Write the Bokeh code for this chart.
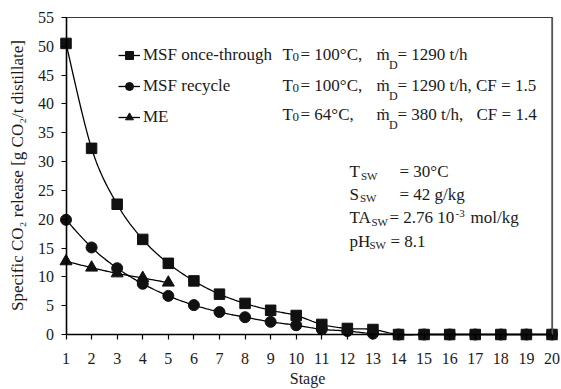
import math
from bokeh.plotting import figure
from bokeh.models import (Range1d, FixedTicker, Legend, LegendItem, Label,
                          ColumnDataSource, LinearAxis)
from bokeh.embed import file_html
from bokeh.resources import INLINE

# ---------------- data ----------------
stages = list(range(1, 21))
msf_once_through = [50.5, 32.3, 22.6, 16.5, 12.35, 9.3, 7.0, 5.4, 4.2, 3.3,
                    1.75, 1.05, 0.87, 0.0, 0.0, 0.0, 0.0, 0.0, 0.0, 0.0]
msf_recycle = [19.9, 15.1, 11.5, 8.8, 6.7, 5.1, 3.9, 3.0, 2.2, 1.6,
               0.9, 0.6, 0.15, 0.0, 0.0, 0.0, 0.0, 0.0, 0.0, 0.0]
me_stages = [1, 2, 3, 4, 5]
me_values = [12.7, 11.6, 10.6, 9.8, 9.0]
y_ticks = [0, 5, 10, 15, 20, 25, 30, 35, 40, 45, 50, 55]
series_labels = ["MSF once-through", "MSF recycle", "ME"]

FONT = "Liberation Serif"
INK = "#1a1a1a"

# ---------------- geometry (frame = whole canvas) ----------------
W, H = 561, 389
XPX = (551.5 - 65.5) / 19.0          # px per stage
YPX = (334.0 - 17.0) / 55.0          # px per unit
X0 = 1 - 65.5 / XPX
X1 = 20 + (W - 551.5) / XPX
Y1 = 55 + 17.0 / YPX
Y0 = -(H - 334.0) / YPX


def px2x(cx):
    return X0 + cx / W * (X1 - X0)


def py2y(cy):
    return Y0 + (H - cy) / H * (Y1 - Y0)


def smooth(xs, ys, n=16):
    """Excel-like smoothed line (Catmull-Rom / Bezier) through the points."""
    pts = list(zip(xs, ys))
    out_x, out_y = [], []
    for i in range(len(pts) - 1):
        p0 = pts[i - 1] if i > 0 else pts[i]
        p1 = pts[i]
        p2 = pts[i + 1]
        p3 = pts[i + 2] if i + 2 < len(pts) else pts[i + 1]
        b1 = (p1[0] + (p2[0] - p0[0]) / 6, p1[1] + (p2[1] - p0[1]) / 6)
        b2 = (p2[0] - (p3[0] - p1[0]) / 6, p2[1] - (p3[1] - p1[1]) / 6)
        for k in range(n + (1 if i == len(pts) - 2 else 0)):
            t = k / n
            u = 1 - t
            out_x.append(u**3 * p1[0] + 3 * u * u * t * b1[0] + 3 * u * t * t * b2[0] + t**3 * p2[0])
            out_y.append(u**3 * p1[1] + 3 * u * u * t * b1[1] + 3 * u * t * t * b2[1] + t**3 * p2[1])
    return out_x, out_y


p = figure(width=W, height=H, output_backend="svg", toolbar_location=None,
           x_range=Range1d(X0, X1), y_range=Range1d(Y0, Y1),
           min_border_left=0, min_border_right=0, min_border_top=0,
           min_border_bottom=0)
p.outline_line_color = None
p.grid.visible = False
p.background_fill_color = "white"
p.border_fill_color = "white"

# axes, fixed at stage 1 and at 0
p.xaxis.fixed_location = 0
p.yaxis.fixed_location = 1
p.xaxis.bounds = (1, 20)
p.yaxis.bounds = (0, 55)
p.xaxis.ticker = FixedTicker(ticks=stages)
p.yaxis.ticker = FixedTicker(ticks=y_ticks)
for ax in (p.xaxis, p.yaxis):
    ax.axis_line_color = "black"
    ax.axis_line_width = 1.6
    ax.major_tick_line_color = "black"
    ax.major_tick_line_width = 1.2
    ax.major_tick_in = 0
    ax.major_tick_out = 5
    ax.minor_tick_line_color = None
    ax.major_label_text_font = FONT
    ax.major_label_text_font_size = "16px"
    ax.major_label_text_color = INK
p.xaxis.major_label_standoff = 13
p.yaxis.major_label_standoff = 7

# plot-area border (top & right edges): bare axes with invisible end ticks
top_axis = LinearAxis(fixed_location=y_ticks[-1], bounds=(stages[0], stages[-1]),
                      ticker=FixedTicker(ticks=[stages[0], stages[-1]]),
                      axis_line_color="#3a3a3a", axis_line_width=1.2,
                      major_tick_in=0, major_tick_out=0,
                      major_tick_line_alpha=0, minor_tick_line_color=None,
                      major_label_overrides={stages[0]: " ", stages[-1]: " "},
                      major_label_text_alpha=0, major_label_text_font_size="1px")
right_axis = LinearAxis(fixed_location=stages[-1], bounds=(y_ticks[0], y_ticks[-1]),
                        ticker=FixedTicker(ticks=[y_ticks[0], y_ticks[-1]]),
                        axis_line_color="#555555", axis_line_width=1.2,
                        major_tick_in=0, major_tick_out=0,
                        major_tick_line_alpha=0, minor_tick_line_color=None,
                        major_label_overrides={y_ticks[0]: " ", y_ticks[-1]: " "},
                        major_label_text_alpha=0, major_label_text_font_size="1px")
p.add_layout(top_axis, "above")
p.add_layout(right_axis, "right")

# series
src_ot = ColumnDataSource(dict(x=stages, y=msf_once_through))
src_rc = ColumnDataSource(dict(x=stages, y=msf_recycle))
src_me = ColumnDataSource(dict(x=me_stages, y=me_values))

sx, sy = smooth(stages, msf_once_through)
l1 = p.line(sx, sy, line_color="black", line_width=1.3)
sx, sy = smooth(stages, msf_recycle)
l2 = p.line(sx, sy, line_color="black", line_width=1.3)
sx, sy = smooth(me_stages, me_values)
l3 = p.line(sx, sy, line_color="black", line_width=1.3)

m1 = p.scatter("x", "y", source=src_ot, marker="square", size=10.5,
               fill_color="#111111", line_color="#111111")
m2 = p.scatter("x", "y", source=src_rc, marker="circle", size=11,
               fill_color="#111111", line_color="#111111")
m3 = p.scatter("x", "y", source=src_me, marker="triangle", size=12,
               fill_color="#111111", line_color="#111111")

# same border also as line segments (after the series)
p.segment(x0=[stages[0], stages[-1]], y0=[y_ticks[-1], y_ticks[-1]],
          x1=[stages[-1], stages[-1]], y1=[y_ticks[-1], y_ticks[0]],
          line_color="#3a3a3a", line_width=1.2)

legend = Legend(items=[
    LegendItem(label=series_labels[0], renderers=[l1, m1]),
    LegendItem(label=series_labels[1], renderers=[l2, m2]),
    LegendItem(label=series_labels[2], renderers=[l3, m3]),
], location=(118, 262), orientation="vertical")
legend.background_fill_alpha = 0
legend.border_line_alpha = 0
legend.padding = 0
legend.margin = 0
legend.spacing = 11
legend.glyph_width = 22
legend.glyph_height = 20
legend.label_height = 20
legend.label_standoff = 3
legend.label_text_font = FONT
legend.label_text_font_size = "17px"
legend.label_text_color = INK
p.add_layout(legend, "center")


def txt(text, cx, cy, size=17, align="left", angle=0.0):
    p.add_layout(Label(x=px2x(cx), y=py2y(cy), text=text,
                       text_font=FONT, text_font_size=f"{size}px",
                       text_color=INK, text_align=align,
                       text_baseline="middle", angle=angle))


# condition texts
rows = [(54, "= 100°C,", "= 1290 t/h", None),
        (85, "= 100°C,", "= 1290 t/h, CF = 1.5", None),
        (114, "= 64°C,", "= 380 t/h,", "CF = 1.4")]
for ry, a, b, c in rows:
    txt("T", 282, ry)
    txt("0", 292, ry + 2, size=13)
    txt(a, 300, ry)
    txt("ṁ", 376, ry)
    txt("D", 388.5, ry + 10, size=12)
    txt(b, 397, ry)
    if c:
        txt(c, 476, ry)

# sea water block
txt("T", 349, 171)
txt("SW", 360.5, 175, size=11)
txt("= 30°C", 399, 171)
txt("S", 349, 193.5)
txt("SW", 359.5, 197.5, size=11)
txt("= 42 g/kg", 399, 193.5)
txt("TA", 349, 217)
txt("SW", 371, 221, size=11)
txt("= 2.76 10", 389, 217)
txt("-3", 455, 212.5, size=11)
txt("mol/kg", 470, 217)
txt("pH", 349, 240.5)
txt("SW", 369, 244.5, size=11)
txt("= 8.1", 390, 240.5)

# axis titles
txt("Specific CO₂ release [g CO₂/t distillate]", 17, 175, size=17,
    align="center", angle=math.pi / 2)
txt("Stage", 307, 378, size=16, align="center")

open("out.html", "w").write(file_html(p, INLINE))
